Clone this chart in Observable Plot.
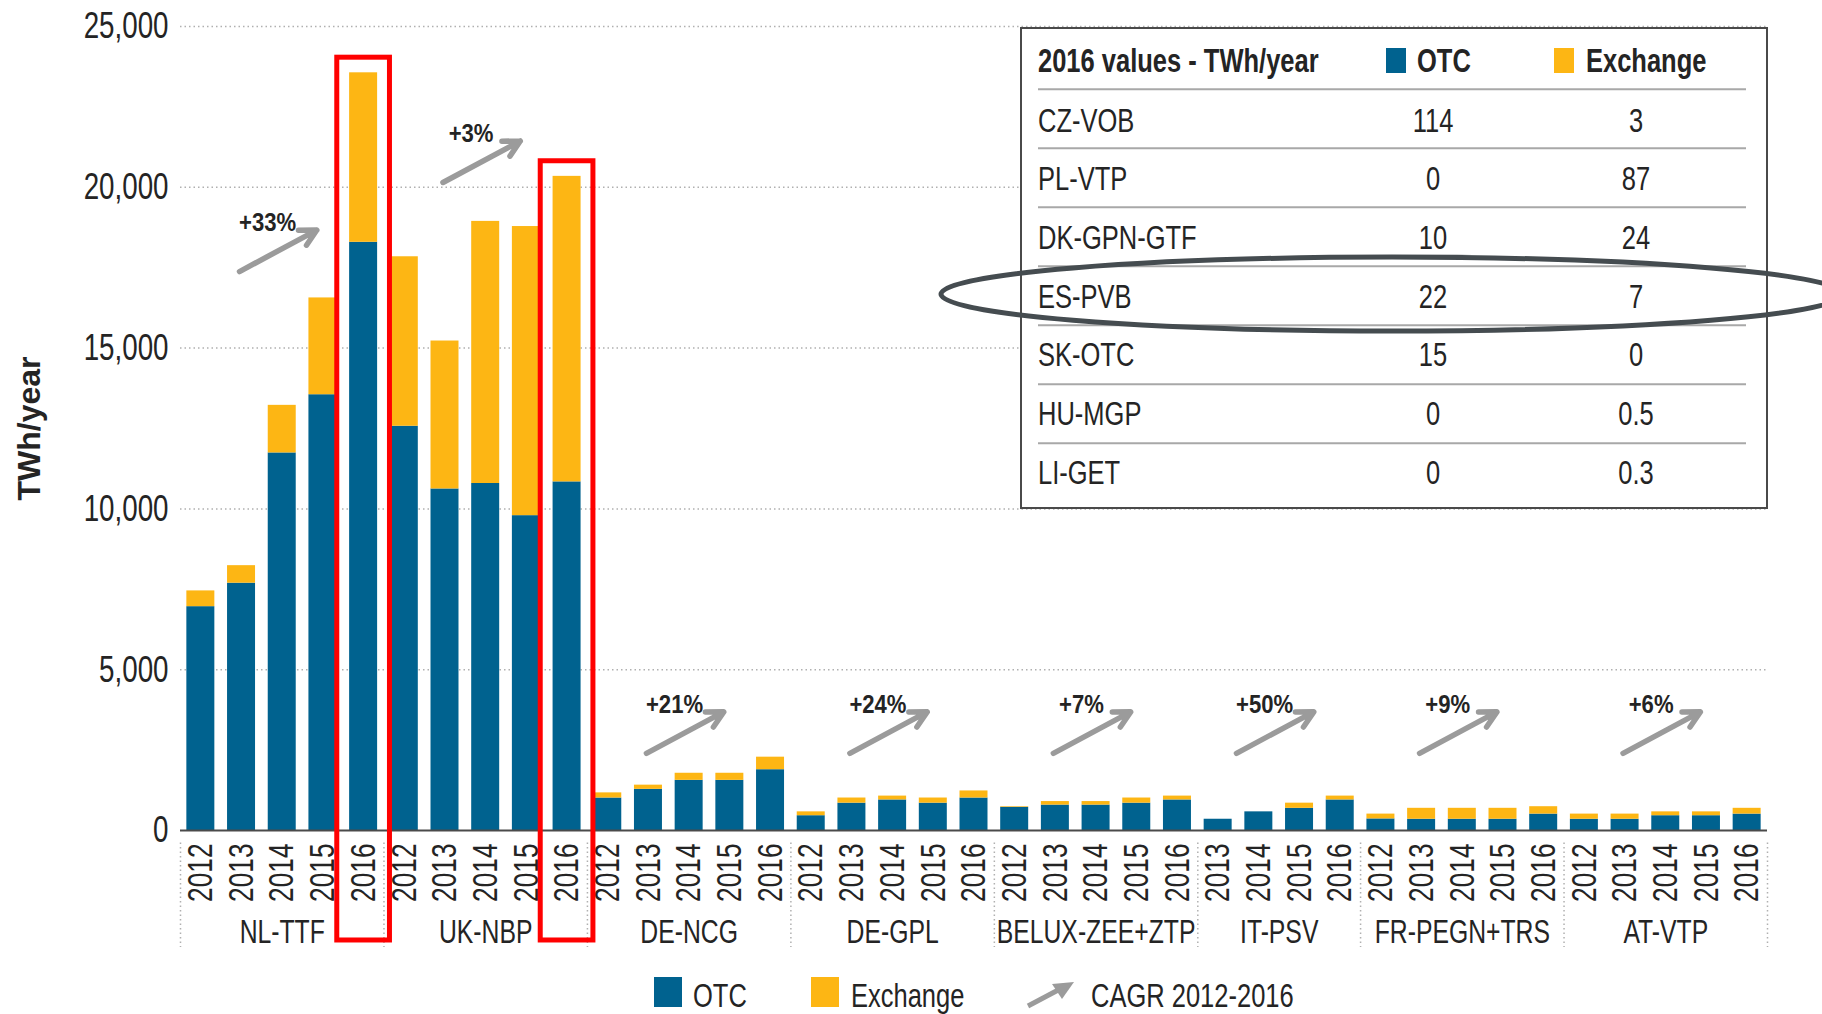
<!DOCTYPE html>
<html>
<head>
<meta charset="utf-8">
<script src="https://cdn.jsdelivr.net/npm/d3@7"></script>
<script src="https://cdn.jsdelivr.net/npm/@observablehq/plot@0.6"></script>
<style>
  html, body { margin: 0; padding: 0; background: #fff; }
  #wrap { position: relative; width: 1822px; height: 1014px; overflow: hidden; }
  #wrap svg { display: block; }
  #overlay { position: absolute; left: 0; top: 0; pointer-events: none; }
</style>
</head>
<body>
<div id="wrap"></div>
<script>
// ---------------- data ----------------
const hubs = ["NL-TTF", "UK-NBP", "DE-NCG", "DE-GPL", "BELUX-ZEE+ZTP", "IT-PSV", "FR-PEGN+TRS", "AT-VTP"];
const hubYears = [
  [2012, 2013, 2014, 2015, 2016],
  [2012, 2013, 2014, 2015, 2016],
  [2012, 2013, 2014, 2015, 2016],
  [2012, 2013, 2014, 2015, 2016],
  [2012, 2013, 2014, 2015, 2016],
  [2013, 2014, 2015, 2016],
  [2012, 2013, 2014, 2015, 2016],
  [2012, 2013, 2014, 2015, 2016]
];
const otcValues = [
  [6960, 7690, 11740, 13550, 18290],
  [12570, 10620, 10790, 9790, 10840],
  [1010, 1280, 1560, 1560, 1890],
  [460, 850, 950, 850, 1010],
  [720, 790, 790, 850, 950],
  [350, 580, 690, 950],
  [360, 350, 350, 350, 510],
  [350, 350, 460, 460, 510]
];
const exchangeValues = [
  [490, 545, 1480, 3010, 5270],
  [5270, 4600, 8150, 8990, 9500],
  [160, 130, 220, 220, 390],
  [120, 160, 120, 160, 220],
  [20, 110, 110, 160, 120],
  [0, 0, 160, 120],
  [150, 340, 340, 340, 230],
  [160, 160, 120, 120, 180]
];
const cagrLabels = ["+33%", "+3%", "+21%", "+24%", "+7%", "+50%", "+9%", "+6%"];
const cagrArrowBase = [17380, 20150, 2400, 2400, 2400, 2400, 2400, 2400]; // TWh level of arrow tail
const highlighted = ["NL-TTF 2016", "UK-NBP 2016"];
const yTicks = [0, 5000, 10000, 15000, 20000, 25000];

const tableTitle = "2016 values - TWh/year";
const tableHubs = ["CZ-VOB", "PL-VTP", "DK-GPN-GTF", "ES-PVB", "SK-OTC", "HU-MGP", "LI-GET"];
const tableOtc = ["114", "0", "10", "22", "15", "0", "0"];
const tableExchange = ["3", "87", "24", "7", "0", "0.5", "0.3"];
const circledRow = "ES-PVB";

// ---------------- styles ----------------
const FONT = '"Liberation Sans", Arial, sans-serif';
const C_OTC = "#00628f";
const C_EX = "#fdb614";
const TXT = "#242424";
const W = 1822, H = 960;

// ---------------- derived tables ----------------
const bars = [];
const groupInfo = [];
let slot = 0;
hubs.forEach((hub, g) => {
  const start = slot;
  hubYears[g].forEach((year, k) => {
    bars.push({i: slot, hub, year, otc: otcValues[g][k], exch: exchangeValues[g][k], key: hub + " " + year});
    slot++;
  });
  groupInfo.push({hub, start, end: slot, center: (start + slot) / 2, label: cagrLabels[g], base: cagrArrowBase[g]});
});
const nSlots = slot;
const boundaries = [0, ...groupInfo.map(d => d.end)];
const highlightBars = bars.filter(d => highlighted.includes(d.key));

const chart = Plot.plot({
  width: W,
  height: H,
  marginLeft: 180,
  marginRight: 55,
  marginTop: 26,
  marginBottom: 130,
  style: {fontFamily: FONT, background: "white", overflow: "visible"},
  x: {type: "linear", domain: [0, nSlots], axis: null},
  y: {domain: [0, 25000], axis: null},
  marks: [
    Plot.gridY(yTicks.filter(t => t > 0), {stroke: "#b0b0b0", strokeOpacity: 1, strokeWidth: 1.5, strokeDasharray: "1.5,3"}),
    Plot.axisY(yTicks, {tickSize: 0, tickPadding: 12, tickFormat: d3.format(","), fontSize: 37, color: TXT, label: null}),
    Plot.rect(bars, {x1: "i", x2: d => d.i + 1, y1: 0, y2: "otc", fill: C_OTC, insetLeft: 6.35, insetRight: 6.35}),
    Plot.rect(bars.filter(d => d.exch > 0), {x1: "i", x2: d => d.i + 1, y1: "otc", y2: d => d.otc + d.exch, fill: C_EX, insetLeft: 6.35, insetRight: 6.35}),
    Plot.ruleY([0], {stroke: "#4a4a4a", strokeWidth: 2}),
    Plot.ruleX(boundaries, {y1: -390, y2: -3640, stroke: "#b0b0b0", strokeWidth: 1.5, strokeDasharray: "1.5,3"}),
    Plot.text(bars, {x: d => d.i + 0.5, text: d => String(d.year), frameAnchor: "bottom", rotate: -90, textAnchor: "end", lineAnchor: "middle", dy: 13, fontSize: 35, fill: TXT}),
    Plot.text(groupInfo, {x: "center", text: "hub", frameAnchor: "bottom", lineAnchor: "middle", dy: 102, fontSize: 33, fill: TXT}),
    Plot.arrow(groupInfo, {x1: d => d.center - 1.05, x2: d => d.center + 0.85, y1: "base", y2: d => d.base + 1290, stroke: "#9b9b9b", strokeWidth: 5.5, headLength: 5, headAngle: 55}),
    Plot.text(groupInfo, {x: d => d.center - 0.36, y: d => d.base + 1290, dy: -7, text: "label", fontWeight: "bold", fontSize: 26, fill: TXT}),
    Plot.rect(highlightBars, {x1: "i", x2: d => d.i + 1, y1: -3420, y2: d => d.otc + d.exch + 470, fill: "none", stroke: "#ff0000", strokeWidth: 5, insetLeft: -6, insetRight: -6}),
    Plot.text(["TWh/year"], {frameAnchor: "left", textAnchor: "middle", lineAnchor: "middle", dx: -151, rotate: -90, fontWeight: "bold", fontSize: 32, fill: TXT})
  ]
});

const wrap = document.getElementById("wrap");
wrap.appendChild(chart);

// ---------------- legend (below the chart svg) ----------------
const leg = d3.create("svg").attr("width", W).attr("height", 54).style("font-family", FONT);
leg.append("rect").attr("x", 654).attr("y", 17).attr("width", 28).attr("height", 30).attr("fill", C_OTC);
leg.append("text").attr("x", 693).attr("y", 47).attr("font-size", 34).attr("fill", TXT).text("OTC");
leg.append("rect").attr("x", 811).attr("y", 17).attr("width", 28).attr("height", 30).attr("fill", C_EX);
leg.append("text").attr("x", 851).attr("y", 47).attr("font-size", 34).attr("fill", TXT).text("Exchange");
leg.append("path").attr("d", "M1028,46 L1062,28").attr("stroke", "#9b9b9b").attr("stroke-width", 5).attr("fill", "none");
leg.append("path").attr("d", "M1074,22 L1052,24 L1062,39 Z").attr("fill", "#9b9b9b");
leg.append("text").attr("x", 1091).attr("y", 47).attr("font-size", 34).attr("fill", TXT).text("CAGR 2012-2016");
wrap.appendChild(leg.node());

// ---------------- inset table + ellipse overlay ----------------
const ov = d3.create("svg").attr("id", "overlay").attr("width", W).attr("height", 1014).style("font-family", FONT);
ov.append("rect").attr("x", 1021).attr("y", 28).attr("width", 746).attr("height", 480)
  .attr("fill", "white").attr("stroke", "#4a4a4a").attr("stroke-width", 2);
ov.append("text").attr("x", 1038).attr("y", 72.2).attr("font-size", 34).attr("font-weight", "bold").attr("fill", TXT).text(tableTitle);
ov.append("rect").attr("x", 1386).attr("y", 48).attr("width", 20).attr("height", 25).attr("fill", C_OTC);
ov.append("text").attr("x", 1417).attr("y", 72.2).attr("font-size", 34).attr("font-weight", "bold").attr("fill", TXT).text("OTC");
ov.append("rect").attr("x", 1554).attr("y", 48).attr("width", 20).attr("height", 25).attr("fill", C_EX);
ov.append("text").attr("x", 1586).attr("y", 72.2).attr("font-size", 34).attr("font-weight", "bold").attr("fill", TXT).text("Exchange");
tableHubs.forEach((hub, k) => {
  const sep = 89.3 + 59 * k;
  ov.append("line").attr("x1", 1038).attr("x2", 1746).attr("y1", sep).attr("y2", sep).attr("stroke", "#a8a8a8").attr("stroke-width", 2);
  const base = 119.5 + 58.7 * k + 12.2;
  ov.append("text").attr("x", 1038).attr("y", base).attr("font-size", 34).attr("fill", TXT).text(hub);
  ov.append("text").attr("x", 1433).attr("y", base).attr("font-size", 34).attr("text-anchor", "middle").attr("fill", TXT).text(tableOtc[k]);
  ov.append("text").attr("x", 1636).attr("y", base).attr("font-size", 34).attr("text-anchor", "middle").attr("fill", TXT).text(tableExchange[k]);
});
const ci = tableHubs.indexOf(circledRow);
ov.append("ellipse").attr("cx", 1392).attr("cy", 119.5 + 58.7 * ci - 1.5).attr("rx", 451).attr("ry", 37)
  .attr("fill", "none").attr("stroke", "#454c50").attr("stroke-width", 5);
wrap.appendChild(ov.node());

// ---------------- condense all text horizontally (Arial Narrow look) ----------------
// Only the horizontal axis is scaled, so the y / dy attributes can stay as they are.
wrap.querySelectorAll("text").forEach(t => {
  const s = t.textContent;
  let k = 0.75;
  if (s === "TWh/year") k = 1;
  else if (s.includes("%")) k = 0.85;
  let shift = 0;
  const xa = t.getAttribute("x");
  if (xa !== null && /^-?[\d.]+$/.test(xa.trim())) {
    shift = +xa;
    t.removeAttribute("x");
  }
  const tr = t.getAttribute("transform") || "";
  t.setAttribute("transform", (tr + ` translate(${shift},0) scale(${k},1)`).trim());
});
</script>
</body>
</html>
